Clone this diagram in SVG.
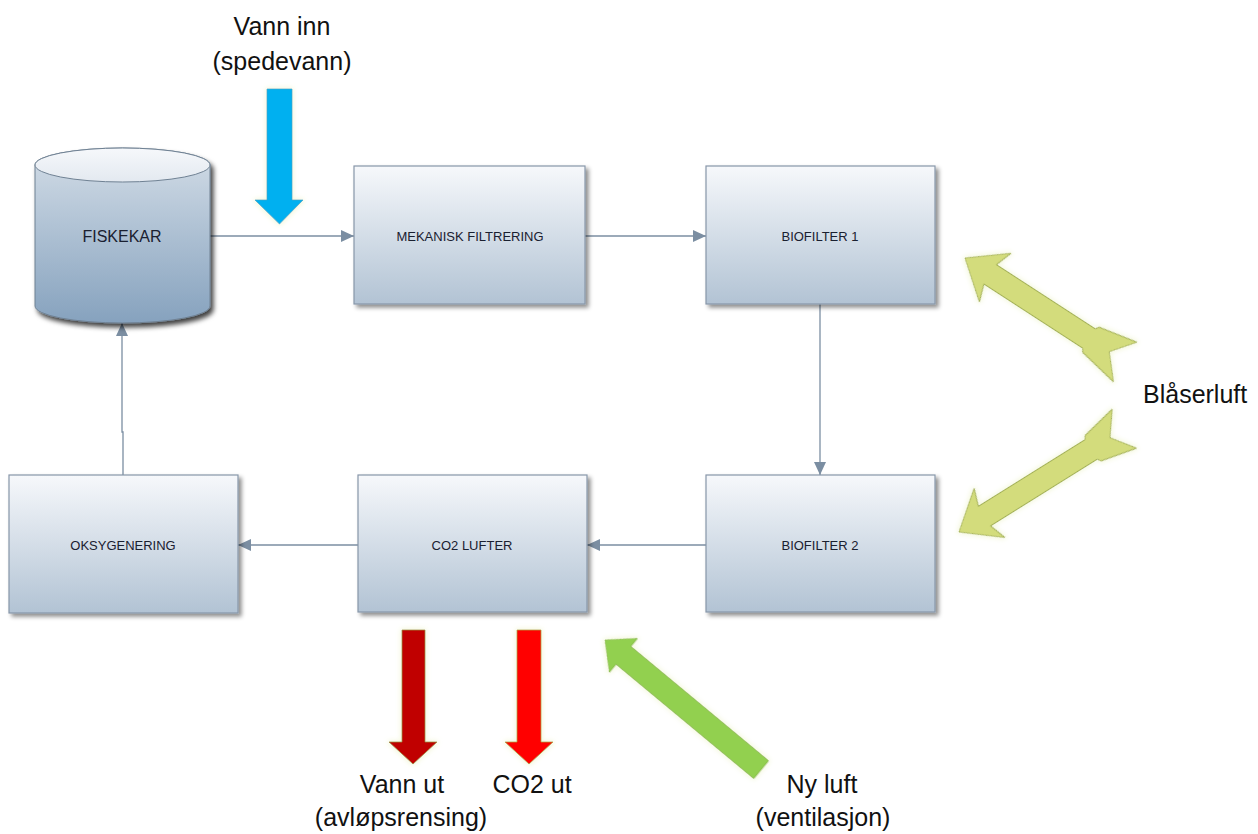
<svg xmlns="http://www.w3.org/2000/svg" width="1258" height="834" viewBox="0 0 1258 834">
<defs>
  <linearGradient id="boxGrad" x1="0" y1="0" x2="0" y2="1">
    <stop offset="0" stop-color="#f6f8fb"/>
    <stop offset="1" stop-color="#b2c3d4"/>
  </linearGradient>
  <linearGradient id="cylGrad" x1="0" y1="0" x2="0" y2="1">
    <stop offset="0" stop-color="#d3dde7"/>
    <stop offset="1" stop-color="#86a2be"/>
  </linearGradient>
  <linearGradient id="topGrad" x1="0" y1="0" x2="0" y2="1">
    <stop offset="0" stop-color="#f6f8fb"/>
    <stop offset="1" stop-color="#e3e9f0"/>
  </linearGradient>
  <filter id="shadow" x="-10%" y="-10%" width="125%" height="130%">
    <feDropShadow dx="3" dy="3" stdDeviation="2" flood-color="#000" flood-opacity="0.45"/>
  </filter>
  <filter id="cylShadow" x="-10%" y="-10%" width="125%" height="130%">
    <feDropShadow dx="3" dy="4" stdDeviation="2.5" flood-color="#000" flood-opacity="0.75"/>
  </filter>
  <filter id="glow" x="-20%" y="-20%" width="140%" height="140%">
    <feMorphology in="SourceAlpha" operator="dilate" radius="1" result="d"/>
    <feGaussianBlur in="d" stdDeviation="2.5" result="b"/>
    <feFlood flood-color="#e6eeb0" flood-opacity="0.45"/>
    <feComposite in2="b" operator="in" result="g"/>
    <feMerge><feMergeNode in="g"/><feMergeNode in="SourceGraphic"/></feMerge>
  </filter>
  <marker id="arrow" markerUnits="userSpaceOnUse" markerWidth="13" markerHeight="12" refX="13" refY="6" orient="auto">
    <path d="M0,0 L13,6 L0,12 Z" fill="#7b8ea2"/>
  </marker>
</defs>
<style>
  .box { fill: url(#boxGrad); stroke: #8797a9; stroke-width: 1.2; filter: url(#shadow); }
  .lbl { font-family: "Liberation Sans", Arial, sans-serif; font-size: 13px; fill: #1a2030; text-anchor: middle; }
  .big { font-family: "Liberation Sans", Arial, sans-serif; font-size: 25px; fill: #111; text-anchor: middle; }
  .conn { fill: none; stroke: #7b8ea2; stroke-width: 1.3; marker-end: url(#arrow); }
  .flow { filter: url(#glow); }
</style>

<g id="connectors">
  <line class="conn" x1="210" y1="236" x2="354" y2="236"/>
  <line class="conn" x1="585" y1="236" x2="706" y2="236"/>
  <line class="conn" x1="820" y1="304" x2="820" y2="475"/>
  <line class="conn" x1="706" y1="545" x2="587" y2="545"/>
  <line class="conn" x1="358" y1="545" x2="238" y2="545"/>
  <path class="conn" d="M123,475 V432 H122 V323"/>
</g>

<g id="fiskekar">
  <g filter="url(#cylShadow)">
    <path d="M35,165 V306 A87.5,17 0 0 0 210,306 V165 A87.5,17 0 0 0 35,165 Z" fill="url(#cylGrad)" stroke="#6f8193" stroke-width="1"/>
  </g>
  <ellipse cx="122.5" cy="165" rx="87.5" ry="17" fill="url(#topGrad)" stroke="#6f8193" stroke-width="1"/>
  <text class="lbl" x="122" y="242" style="font-size:16px">FISKEKAR</text>
</g>

<g id="mekanisk">
  <rect class="box" x="354" y="166" width="231" height="138"/>
  <text class="lbl" x="470" y="241">MEKANISK FILTRERING</text>
</g>

<g id="biofilter1">
  <rect class="box" x="706" y="166" width="229" height="138"/>
  <text class="lbl" x="820" y="241">BIOFILTER 1</text>
</g>

<g id="biofilter2">
  <rect class="box" x="706" y="475" width="229" height="137"/>
  <text class="lbl" x="820" y="550">BIOFILTER 2</text>
</g>

<g id="co2lufter">
  <rect class="box" x="358" y="475" width="229" height="137"/>
  <text class="lbl" x="472" y="550">CO2 LUFTER</text>
</g>

<g id="oksygenering">
  <rect class="box" x="9" y="475" width="229" height="138"/>
  <text class="lbl" x="123" y="550">OKSYGENERING</text>
</g>

<g id="vann-inn">
  <polygon class="flow" points="267,89 292,89 292,200 303,200 279.5,224 255,200 267,200" fill="#00b0f0" stroke="#3fa7c9" stroke-width="0.8"/>
  <text class="big" x="282" y="35">Vann inn</text>
  <text class="big" x="282" y="70">(spedevann)</text>
</g>

<g id="vann-ut">
  <polygon class="flow" points="402,630 425,630 425,742 437,742 413,764 389,742 402,742" fill="#c00000" stroke="#9a8a40" stroke-width="0.8"/>
  <text class="big" x="402" y="793">Vann ut</text>
  <text class="big" x="401" y="826">(avløpsrensing)</text>
</g>

<g id="co2-ut">
  <polygon class="flow" points="517,630 541,630 541,742 553,742 529,764 505,742 517,742" fill="#ff0000" stroke="#b0a040" stroke-width="0.8"/>
  <text class="big" x="532" y="793">CO2 ut</text>
</g>

<g id="ny-luft">
  <polygon class="flow" transform="translate(605,640) rotate(39.7)" points="0,0 24,-22 24,-11.5 203,-11.5 203,11.5 24,11.5 24,22" fill="#92d050" stroke="#86b84a" stroke-width="0.8"/>
  <text class="big" x="822" y="793">Ny luft</text>
  <text class="big" x="823" y="826">(ventilasjon)</text>
</g>

<g id="blaserluft">
  <polygon class="flow" transform="translate(965,258) rotate(33)" points="0,0 36,-29 30,-11.5 148,-11.5 150,-15 190,-23 172,0 192,23 150,15 148,11.5 30,11.5 36,29" fill="#d3dc7b" stroke="#a3b057" stroke-width="1"/>
  <polygon class="flow" transform="translate(959,532) rotate(-32)" points="0,0 36,-29 30,-11.5 156,-11.5 158,-15 195,-23 178,0 195,23 158,15 156,11.5 30,11.5 36,29" fill="#d3dc7b" stroke="#a3b057" stroke-width="1"/>
  <text class="big" x="1143" y="403" style="text-anchor:start">Blåserluft</text>
</g>
</svg>
